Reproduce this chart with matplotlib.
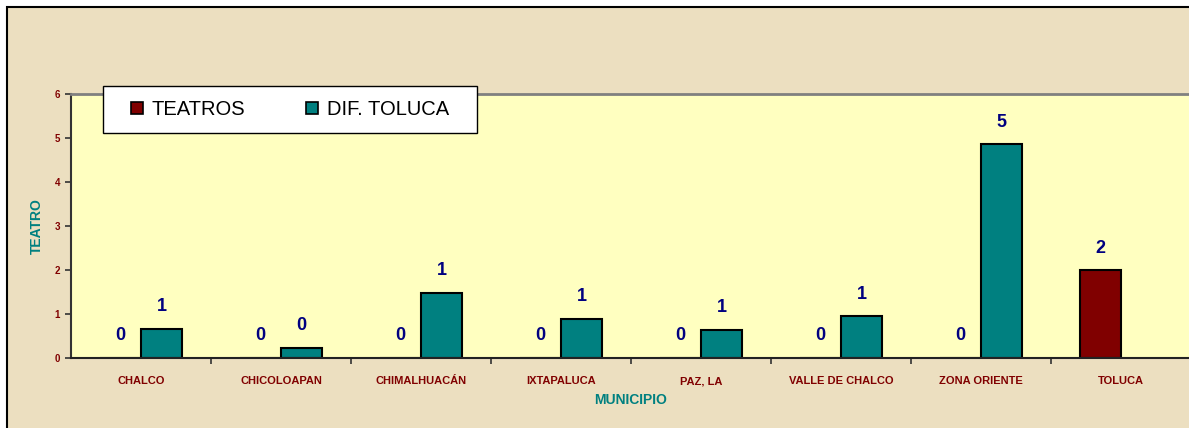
import numpy as np
import matplotlib
matplotlib.use("Agg")
import matplotlib.pyplot as plt
from matplotlib.patches import Rectangle, Patch

plt.rcParams["font.family"] = ["Liberation Sans", "DejaVu Sans"]

MUNICIPIOS = ["CHALCO", "CHICOLOAPAN", "CHIMALHUACÁN", "IXTAPALUCA",
              "PAZ, LA", "VALLE DE CHALCO", "ZONA ORIENTE", "TOLUCA"]
TEATROS = [0, 0, 0, 0, 0, 0, 0, 2]
DIF_TOLUCA = [0.66, 0.23, 1.48, 0.89, 0.64, 0.95, 4.86, None]
Y_TICKS = [0, 1, 2, 3, 4, 5, 6]
SERIES_NAMES = ["TEATROS", "DIF. TOLUCA"]

TEAL = "#008080"
DARK_RED = "#800000"
NAVY = "#000080"
PARCHMENT = "#ECDFC0"
PLOT_BG = "#FFFFC0"

W, H = 1189, 428


def px_box(x0, y0, x1, y1):
    """Pixel box (top-left origin) -> figure coords [left, bottom, w, h]."""
    return [x0 / W, 1 - y1 / H, (x1 - x0) / W, (y1 - y0) / H]


def label_bars(ax, xs, values):
    for xi, v in zip(xs, values):
        if v is None:
            continue
        ax.annotate(f"{v:.0f}", (xi, v), xytext=(0, 22), textcoords="offset pixels",
                    ha="center", va="center", fontsize=13, fontweight="bold",
                    color=NAVY)


def make_chart():
    fig = plt.figure(figsize=(W / 100, H / 100), dpi=100, facecolor="white")

    # parchment frame
    fig.patches.append(Rectangle((7 / W, -0.1), 1.2, 1 - 7 / H + 0.1,
                                 transform=fig.transFigure, facecolor=PARCHMENT,
                                 edgecolor="black", linewidth=1.5, zorder=-10))

    ax = fig.add_axes(px_box(71, 94, 1191, 358))
    ax.set_zorder(1)
    ax.set_facecolor(PLOT_BG)

    x = np.arange(len(MUNICIPIOS))
    bar_w = 41 / 140
    teatros = np.array(TEATROS, dtype=float)
    dif = np.array([np.nan if v is None else v for v in DIF_TOLUCA], dtype=float)

    ax.bar(x - bar_w, teatros, width=bar_w, align="edge", color=DARK_RED,
           edgecolor="black", linewidth=1.5, zorder=2)
    ax.bar(x, dif, width=bar_w, align="edge", color=TEAL,
           edgecolor="black", linewidth=1.5, zorder=2)

    label_bars(ax, x - bar_w / 2, TEATROS)
    label_bars(ax, x + bar_w / 2, DIF_TOLUCA)

    ax.set_xlim(-0.5, len(MUNICIPIOS) - 0.5)
    ax.set_ylim(Y_TICKS[0], Y_TICKS[-1])

    ax.set_yticks(Y_TICKS)
    ax.set_yticklabels([str(t) for t in Y_TICKS])
    ax.tick_params(axis="y", direction="out", length=4, width=1.2, pad=4,
                   labelsize=7, labelcolor=DARK_RED, color="#333333")

    ax.set_xticks(x)
    ax.set_xticklabels(MUNICIPIOS)
    ax.set_xticks(x[:-1] + 0.5, minor=True)
    ax.tick_params(axis="x", which="major", length=0, pad=13, labelsize=8,
                   labelcolor=DARK_RED)
    ax.tick_params(axis="x", which="minor", direction="out", length=4,
                   width=1.2, color="#333333")
    for lbl in ax.get_xticklabels() + ax.get_yticklabels():
        lbl.set_fontweight("bold")

    ax.spines["top"].set_color("#808080")
    ax.spines["top"].set_linewidth(2)
    ax.spines["right"].set_visible(False)
    ax.spines["left"].set_color("#333333")
    ax.spines["left"].set_linewidth(1.5)
    ax.spines["bottom"].set_color("#222222")
    ax.spines["bottom"].set_linewidth(1.5)

    ax.set_xlabel("MUNICIPIO", fontsize=10, fontweight="bold", color=TEAL)
    ax.xaxis.set_label_coords(0.5, (358 - 393) / 264)
    ax.set_ylabel("TEATRO", fontsize=10, fontweight="bold", color=TEAL)
    ax.yaxis.set_label_coords((44 - 71) / 1120, 0.5)

    # legend box
    box = px_box(103, 86, 477, 133)
    fig.patches.append(Rectangle((box[0], box[1]), box[2], box[3],
                                 transform=fig.transFigure, facecolor="white",
                                 edgecolor="black", linewidth=1, zorder=4))
    handles = [Patch(facecolor=DARK_RED, edgecolor="black", linewidth=1.2),
               Patch(facecolor=TEAL, edgecolor="black", linewidth=1.2)]
    fig.legend(handles, SERIES_NAMES, loc="center",
               bbox_to_anchor=(box[0] + box[2] / 2, box[1] + box[3] / 2),
               ncol=2, frameon=False, fontsize=14.5, handlelength=0.6,
               handleheight=0.6, handletextpad=0.45, columnspacing=3.0)

    fig.savefig("out.png", dpi=100, facecolor="white")
    plt.close(fig)


if __name__ == "__main__":
    make_chart()
